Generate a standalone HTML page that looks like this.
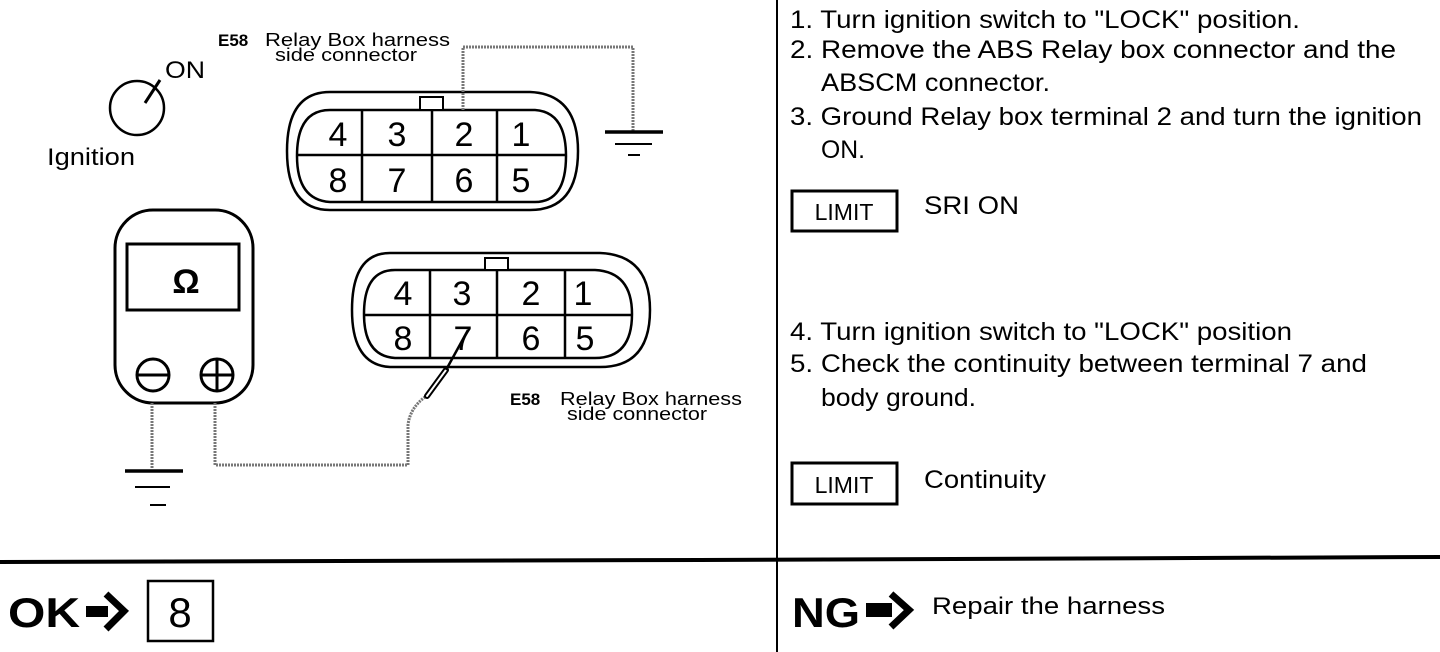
<!DOCTYPE html>
<html><head><meta charset="utf-8"><style>
body{margin:0;background:#fff;}
svg{display:block;font-family:"Liberation Sans",Arial,sans-serif;}
</style></head><body>
<svg width="1440" height="652" viewBox="0 0 1440 652" xmlns="http://www.w3.org/2000/svg">
<rect width="1440" height="652" fill="#fff"/>
<line x1="777" y1="0" x2="777" y2="652" stroke="#000" stroke-width="2"/>
<path d="M0 562 L700 560 L1440 557" stroke="#000" stroke-width="4" fill="none"/>

<!-- ignition -->
<circle cx="137" cy="108" r="27" fill="none" stroke="#000" stroke-width="2.5"/>
<line x1="145" y1="103" x2="160" y2="80" stroke="#000" stroke-width="3"/>
<text x="165" y="78" font-size="24" textLength="40" lengthAdjust="spacingAndGlyphs">ON</text>
<text x="47" y="165" font-size="24" textLength="88" lengthAdjust="spacingAndGlyphs">Ignition</text>

<text x="218" y="46" font-size="17" font-weight="bold">E58</text>
<text x="265" y="46" font-size="18" textLength="185" lengthAdjust="spacingAndGlyphs">Relay Box harness</text>
<text x="275" y="61" font-size="18" textLength="142" lengthAdjust="spacingAndGlyphs">side connector</text>

<!-- top connector -->
<path d="M330 92 L530 92 Q578 94 578 151 Q578 210 530 210 L330 210 Q287 210 287 151 Q287 92 330 92 Z" fill="none" stroke="#000" stroke-width="2.5"/>
<path d="M330 110 L535 110 Q566 112 566 156 Q566 202 535 202 L330 202 Q297 200 297 156 Q297 110 330 110 Z" fill="none" stroke="#000" stroke-width="2.5"/>
<line x1="297" y1="155" x2="566" y2="155" stroke="#000" stroke-width="2.5"/>
<line x1="362" y1="110" x2="362" y2="202" stroke="#000" stroke-width="2.5"/>
<line x1="432" y1="110" x2="432" y2="202" stroke="#000" stroke-width="2.5"/>
<line x1="497" y1="110" x2="497" y2="202" stroke="#000" stroke-width="2.5"/>
<rect x="420" y="97" width="23" height="13" fill="#fff" stroke="#000" stroke-width="2"/>
<g font-size="34" text-anchor="middle">
<text x="338" y="146">4</text><text x="397" y="146">3</text><text x="464" y="146">2</text><text x="521" y="146">1</text>
<text x="338" y="192">8</text><text x="397" y="192">7</text><text x="464" y="192">6</text><text x="521" y="192">5</text>
</g>
<polyline points="463,110 463,47 633,47 633,132" fill="none" stroke="#777" stroke-width="3" stroke-dasharray="2 1"/>
<line x1="605" y1="132" x2="663" y2="132" stroke="#000" stroke-width="3.5"/>
<line x1="615" y1="144" x2="652" y2="144" stroke="#000" stroke-width="2"/>
<line x1="628" y1="155" x2="640" y2="155" stroke="#000" stroke-width="2"/>

<!-- meter -->
<rect x="115" y="210" width="138" height="193" rx="38" fill="none" stroke="#000" stroke-width="3"/>
<rect x="127" y="244" width="112" height="66" fill="none" stroke="#000" stroke-width="3"/>
<text x="186" y="293" font-size="34" font-weight="bold" text-anchor="middle">Ω</text>
<circle cx="153" cy="375" r="16" fill="none" stroke="#000" stroke-width="3"/>
<line x1="137" y1="375" x2="169" y2="375" stroke="#000" stroke-width="3"/>
<circle cx="217" cy="375" r="16" fill="none" stroke="#000" stroke-width="3"/>
<line x1="201" y1="375" x2="233" y2="375" stroke="#000" stroke-width="3"/>
<line x1="217" y1="359" x2="217" y2="391" stroke="#000" stroke-width="3"/>
<line x1="152" y1="403" x2="152" y2="469" stroke="#777" stroke-width="3" stroke-dasharray="2 1"/>
<line x1="125" y1="471" x2="183" y2="471" stroke="#000" stroke-width="3.5"/>
<line x1="135" y1="487" x2="170" y2="487" stroke="#000" stroke-width="2"/>
<line x1="150" y1="505" x2="166" y2="505" stroke="#000" stroke-width="2"/>
<path d="M215 403 L215 465 L408 465 L408 425 Q410 408 425 397" fill="none" stroke="#777" stroke-width="3" stroke-dasharray="2 1"/>
<line x1="427" y1="396" x2="446" y2="370" stroke="#000" stroke-width="6" stroke-linecap="round"/>
<line x1="427" y1="396" x2="446" y2="370" stroke="#fff" stroke-width="2" stroke-linecap="round"/>
<line x1="446" y1="370" x2="468" y2="330" stroke="#000" stroke-width="2.5"/>

<!-- bottom connector -->
<path d="M390 253 L600 253 Q650 255 650 310 Q650 367 600 367 L390 367 Q352 365 352 310 Q352 253 390 253 Z" fill="none" stroke="#000" stroke-width="2.5"/>
<path d="M395 270 L595 270 Q632 272 632 314 Q632 358 595 358 L395 358 Q364 356 364 314 Q364 270 395 270 Z" fill="none" stroke="#000" stroke-width="2.5"/>
<line x1="364" y1="315" x2="632" y2="315" stroke="#000" stroke-width="2.5"/>
<line x1="430" y1="270" x2="430" y2="358" stroke="#000" stroke-width="2.5"/>
<line x1="497" y1="270" x2="497" y2="358" stroke="#000" stroke-width="2.5"/>
<line x1="565" y1="270" x2="565" y2="358" stroke="#000" stroke-width="2.5"/>
<rect x="485" y="258" width="23" height="12" fill="#fff" stroke="#000" stroke-width="2"/>
<g font-size="34" text-anchor="middle">
<text x="403" y="305">4</text><text x="462" y="305">3</text><text x="531" y="305">2</text><text x="583" y="305">1</text>
<text x="403" y="350">8</text><text x="463" y="350">7</text><text x="531" y="350">6</text><text x="585" y="350">5</text>
</g>
<text x="510" y="405" font-size="17" font-weight="bold">E58</text>
<text x="560" y="405" font-size="18" textLength="182" lengthAdjust="spacingAndGlyphs">Relay Box harness</text>
<text x="567" y="420" font-size="18" textLength="140" lengthAdjust="spacingAndGlyphs">side connector</text>

<!-- right text -->
<g font-size="25">
<text x="790" y="28" textLength="510" lengthAdjust="spacingAndGlyphs">1. Turn ignition switch to "LOCK" position.</text>
<text x="790" y="58" textLength="606" lengthAdjust="spacingAndGlyphs">2. Remove the ABS Relay box connector and the</text>
<text x="821" y="91" textLength="229" lengthAdjust="spacingAndGlyphs">ABSCM connector.</text>
<text x="790" y="125" textLength="632" lengthAdjust="spacingAndGlyphs">3. Ground Relay box terminal 2 and turn the ignition</text>
<text x="821" y="158" textLength="44" lengthAdjust="spacingAndGlyphs">ON.</text>
<text x="924" y="214" textLength="95" lengthAdjust="spacingAndGlyphs">SRI ON</text>
<text x="790" y="340" textLength="502" lengthAdjust="spacingAndGlyphs">4. Turn ignition switch to "LOCK" position</text>
<text x="790" y="372" textLength="577" lengthAdjust="spacingAndGlyphs">5. Check the continuity between terminal 7 and</text>
<text x="821" y="406" textLength="155" lengthAdjust="spacingAndGlyphs">body ground.</text>
<text x="924" y="488" textLength="122" lengthAdjust="spacingAndGlyphs">Continuity</text>
</g>
<rect x="792" y="191" width="105" height="40" fill="none" stroke="#000" stroke-width="3"/>
<text x="844" y="220" font-size="23" text-anchor="middle">LIMIT</text>
<rect x="792" y="463" width="105" height="41" fill="none" stroke="#000" stroke-width="3"/>
<text x="844" y="493" font-size="23" text-anchor="middle">LIMIT</text>

<!-- bottom -->
<text x="8" y="627" font-size="42" font-weight="bold" textLength="72" lengthAdjust="spacingAndGlyphs">OK</text>
<path d="M86 606 L108 606 L108 617 L86 617 Z" fill="#000"/>
<path d="M106 594 L124 611 L106 629" fill="none" stroke="#000" stroke-width="7"/>
<rect x="148" y="581" width="65" height="60" fill="none" stroke="#000" stroke-width="2.5"/>
<text x="180" y="627" font-size="42" text-anchor="middle">8</text>
<text x="792" y="627" font-size="42" font-weight="bold" textLength="68" lengthAdjust="spacingAndGlyphs">NG</text>
<path d="M866 603 L892 603 L892 617 L866 617 Z" fill="#000"/>
<path d="M891 594 L909 610 L891 627" fill="none" stroke="#000" stroke-width="7"/>
<text x="932" y="614" font-size="24" textLength="233" lengthAdjust="spacingAndGlyphs">Repair the harness</text>
</svg>
</body></html>
